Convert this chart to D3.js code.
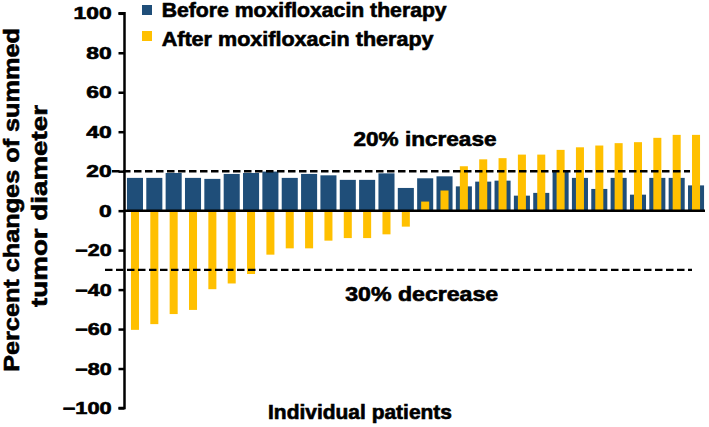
<!DOCTYPE html>
<html>
<head>
<meta charset="utf-8">
<script src="https://cdn.jsdelivr.net/npm/d3@7"></script>
<style>
  html, body { margin: 0; padding: 0; background: #fff; }
  svg { display: block; }
  text { font-family: "Liberation Sans", Arial, sans-serif; font-weight: bold; fill: #000; stroke: #000; stroke-width: 0.6px; }
</style>
</head>
<body>
<svg id="chart" width="709" height="427"></svg>
<script>
// ---- data ----
const patients = d3.range(1, 31).map(String);
const beforeValues = [16.6, 16.6, 19.1, 16.6, 16.1, 18.6, 19.1, 19.8, 16.6, 18.6,
                      17.9, 15.6, 15.6, 18.9, 11.5, 16.4, 17.4, 12.3, 14.7, 15.2,
                      7.6, 9.0, 19.9, 16.6, 11.0, 16.6, 8.1, 16.6, 16.6, 12.8];
const afterValues = [-60.4, -57.5, -52.4, -50.3, -39.8, -36.9, -32.1, -22.3, -19.1, -19.1,
                     -15.2, -13.9, -13.9, -12.0, -8.1, 4.6, 10.2, 22.5, 26.0, 26.6,
                     28.4, 28.4, 30.8, 32.1, 33.0, 34.2, 34.7, 36.9, 38.4, 38.4];
const yTicks = [-100, -80, -60, -40, -20, 0, 20, 40, 60, 80, 100];
const seriesNames = ["Before moxifloxacin therapy", "After moxifloxacin therapy"];
const thresholds = [20, -30];
const thresholdLabels = ["20% increase", "30% decrease"];
const yTitleLines = ["Percent changes of summed", "tumor diameter"];
const xTitle = "Individual patients";

// ---- drawing ----
const BLUE = "#1F4E79", YELLOW = "#FFC000";
const svg = d3.select("#chart");

const x = d3.scaleBand().domain(patients).range([125.3, 705.7]).paddingInner(0.17).paddingOuter(0.085);
const y = d3.scaleLinear().domain([-100, 100]).range([408, 13.3]);

// helper: place text and stretch horizontally to a target width
function label(txt, px, py, size, target, anchor, rotate) {
  const t = svg.append("text")
    .attr("x", 0).attr("y", 0)
    .attr("font-size", size)
    .attr("text-anchor", anchor || "start")
    .text(txt);
  const len = t.node().getComputedTextLength();
  const k = target ? target / len : 1;
  t.attr("transform", `translate(${px},${py})` + (rotate ? ` rotate(${rotate})` : "") + ` scale(${k},1)`);
  return t;
}

// bars: blue behind, yellow narrower in front
const bw = x.bandwidth();
const yw = bw * 0.5;
svg.append("g").selectAll("rect").data(patients).join("rect")
  .attr("x", d => x(d))
  .attr("width", bw)
  .attr("y", (d, i) => y(Math.max(0, beforeValues[i])))
  .attr("height", (d, i) => Math.abs(y(beforeValues[i]) - y(0)))
  .attr("fill", BLUE);
svg.append("g").selectAll("rect").data(patients).join("rect")
  .attr("x", d => x(d) + (bw - yw) / 2)
  .attr("width", yw)
  .attr("y", (d, i) => y(Math.max(0, afterValues[i])))
  .attr("height", (d, i) => Math.abs(y(afterValues[i]) - y(0)))
  .attr("fill", YELLOW);

// zero line
svg.append("line")
  .attr("x1", 124).attr("x2", 705)
  .attr("y1", y(0)).attr("y2", y(0))
  .attr("stroke", "#000").attr("stroke-width", 2.5);

// threshold dashed lines
const dashX = [[112, 690], [105, 692]];
thresholds.forEach((v, i) => {
  svg.append("line")
    .attr("x1", dashX[i][0]).attr("x2", dashX[i][1])
    .attr("y1", y(v)).attr("y2", y(v))
    .attr("stroke", "#000").attr("stroke-width", 2.4)
    .attr("stroke-dasharray", "7.5,3.5");
});

// y axis
const yAxis = d3.axisLeft(y).tickValues(yTicks).tickSize(6).tickPadding(6)
  .tickFormat(d => d < 0 ? "\u2212" + Math.abs(d) : String(d));
const gy = svg.append("g").attr("transform", "translate(124.5,0)").call(yAxis);
gy.select(".domain").attr("stroke", "#000").attr("stroke-width", 2.5)
  .attr("d", `M-6,${y(100)}H0V${y(-100)}H-6`);
gy.selectAll(".tick line").attr("stroke", "#000").attr("stroke-width", 2.5);
gy.selectAll(".tick text").remove();
yTicks.forEach(v => {
  const s = v < 0 ? "\u2212" + Math.abs(v) : String(v);
  const digits = String(Math.abs(v)).length;
  const target = digits * 12.7 + (v < 0 ? 11 : 0);
  label(s, 111.7, y(v) + 6, 16.5, target, "end");
});

// threshold labels
label(thresholdLabels[0], 425, 145.5, 19.5, 143, "middle");
label(thresholdLabels[1], 421.7, 300.5, 19.5, 153, "middle");

// legend
const legendColors = [BLUE, YELLOW];
const legendY = [5, 31];
seriesNames.forEach((n, i) => {
  svg.append("rect").attr("x", 142).attr("y", legendY[i]).attr("width", 10).attr("height", 10)
    .attr("fill", legendColors[i]);
});
label(seriesNames[0], 161.7, 17, 19.5, 285, "start");
label(seriesNames[1], 161.7, 45.5, 19.5, 272, "start");

// axis titles
label(xTitle, 360, 419, 19.5, 184, "middle");
label(yTitleLines[0], 18.5, 200, 21.5, 344, "middle", -90);
label(yTitleLines[1], 46.5, 206, 21.5, 202, "middle", -90);
</script>
</body>
</html>
